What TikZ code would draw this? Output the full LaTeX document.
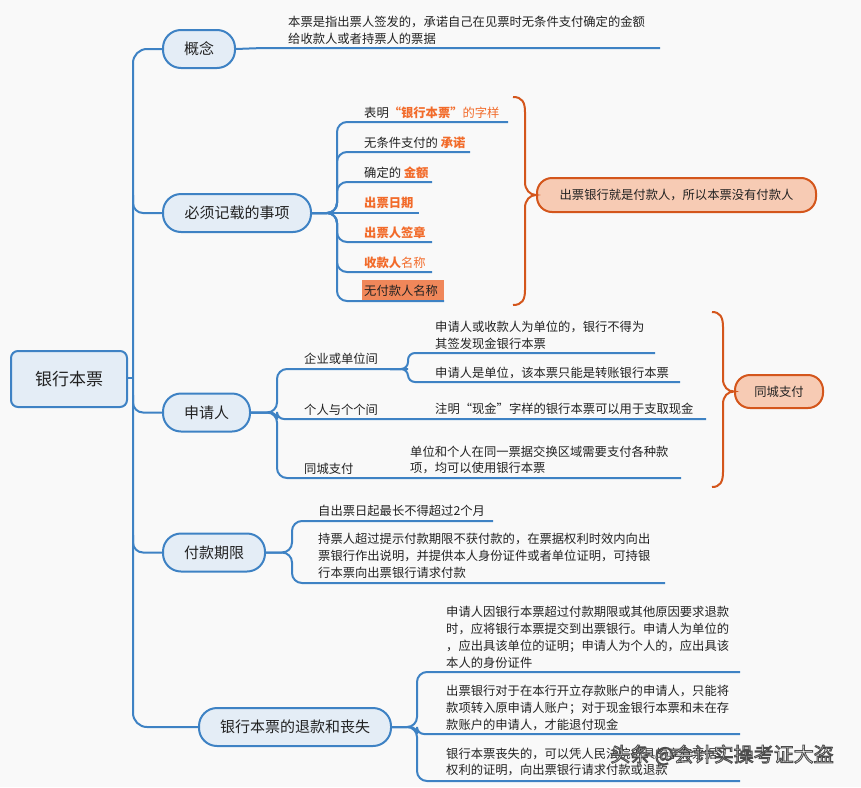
\documentclass[tikz,border=0pt]{standalone}
\usepackage{fontspec}
\setmainfont{Noto Sans CJK SC}
\definecolor{lnblue}{HTML}{3E82C4}
\definecolor{ndfill}{HTML}{E4EDF6}
\definecolor{txtc}{HTML}{222222}
\definecolor{orb}{HTML}{F26B2A}
\definecolor{orc}{HTML}{D4561C}
\definecolor{orfill}{HTML}{F7CBB4}
\definecolor{hl}{HTML}{F0875A}
\definecolor{bg}{HTML}{F9F9F9}
\newcommand{\wmoutline}[1]{\special{pdf:literal direct 0.3 0.3 0.3 RG 0.9 w 2 Tr}#1\special{pdf:literal direct 0 Tr}}
\begin{document}
\begin{tikzpicture}[x=1pt,y=-1pt,
  link/.style={draw=lnblue, line width=2pt, rounded corners=10pt},
  slink/.style={draw=lnblue, line width=2pt, rounded corners=7pt},
  topic/.style={draw=lnblue, fill=ndfill, line width=2pt, rounded corners=18pt, minimum height=38pt, inner sep=0pt, font=\fontsize{15}{18}\selectfont, text=txtc},
  mainnode/.style={draw=lnblue, fill=ndfill, line width=2pt, rounded corners=7pt, minimum width=116pt, minimum height=56pt, inner sep=0pt, font=\fontsize{17}{20}\selectfont, text=txtc},
  txt/.style={anchor=west, inner sep=0pt, font=\fontsize{12.3}{16.8}\selectfont, text=txtc, align=left},
  bracepath/.style={draw=orc, line width=2pt},
  sumbox/.style={draw=orc, fill=orfill, line width=2pt, rounded corners=15pt, inner sep=0pt, font=\fontsize{12.3}{16}\selectfont, text=txtc},
  wm/.style={inner sep=0pt, font=\fontsize{20}{22}\selectfont, text=white}
]
\useasboundingbox (0,0) rectangle (861,787);
\fill[bg] (0,0) rectangle (861,787);

% main and topic nodes
\node[mainnode] (root) at (69,379) {银行本票};
\node[topic, minimum width=72pt] (gn) at (199,49) {概念};
\node[topic, minimum width=148pt] (bx) at (237,213) {必须记载的事项};
\node[topic, minimum width=87pt] (sq) at (206.5,412.5) {申请人};
\node[topic, minimum width=102pt] (fk) at (214,552.5) {付款期限};
\node[topic, minimum width=192pt] (tk) at (295,727) {银行本票的退款和丧失};

% trunk
\draw[link, rounded corners=14pt] (gn.west) -- (133,49) -- (133,727) -- (tk.west);
\draw[link] (root.east |- 0,378) -- (133,378);
\draw[link] (133,195) -- (133,213) -- (bx.west);
\draw[link] (133,395) -- (133,412.5) -- (sq.west);
\draw[link] (133,535) -- (133,552.5) -- (fk.west);

% 概念
\node[txt] (gnt) at (288,30) {本票是指出票人签发的，承诺自己在见票时无条件支付确定的金额\\给收款人或者持票人的票据};
\draw[link] (gn.east) -- (262,48) -- (660,48);

% 必须记载的事项
\fill[hl] (362,280) rectangle (444,301);
\node[txt] (b1) at (364,113) {表明{\color{orb}\bfseries “银行本票”}{\color{orb}的字样}};
\node[txt] (b2) at (364,143) {无条件支付的 {\color{orb}\bfseries 承诺}};
\node[txt] (b3) at (364,173) {确定的 {\color{orb}\bfseries 金额}};
\node[txt] (b4) at (364,203) {{\color{orb}\bfseries 出票日期}};
\node[txt] (b5) at (364,233) {{\color{orb}\bfseries 出票人签章}};
\node[txt] (b6) at (364,263) {{\color{orb}\bfseries 收款人}{\color{orb}名称}};
\node[txt] (b7) at (364,291) {无付款人名称};
\draw[link] (bx.east) -- (337,213) -- (337,122) -- (508,122);
\draw[link] (bx.east) -- (337,213) -- (337,152) -- (470,152);
\draw[link] (bx.east) -- (337,213) -- (337,182) -- (432,182);
\draw[link] (bx.east) -- (419,213);
\draw[link] (bx.east) -- (337,213) -- (337,242) -- (432,242);
\draw[link] (bx.east) -- (337,213) -- (337,272) -- (432,272);
\draw[link] (bx.east) -- (337,213) -- (337,301) -- (444,301);

% brace 1 and summary
\node[sumbox, minimum width=279pt, minimum height=34pt] (s1) at (676.5,195) {出票银行就是付款人，所以本票没有付款人};
\draw[bracepath] (513,97) .. controls (522,97) and (525,102) .. (525,112) -- (525,182) .. controls (525,190) and (530,195) .. (s1.west) .. controls (530,195) and (525,200) .. (525,208) -- (525,290) .. controls (525,300) and (522,305) .. (513,305);

% 申请人
\node[txt] (q1) at (304,359) {企业或单位间};
\node[txt] (q2) at (304,410) {个人与个个间};
\node[txt] (q3) at (304,469) {同城支付};
\node[txt] (q11) at (435,335) {申请人或收款人为单位的，银行不得为\\其签发现金银行本票};
\node[txt] (q12) at (435,373) {申请人是单位，该本票只能是转账银行本票};
\node[txt] (q21) at (435,409) {注明“现金”字样的银行本票可以用于支取现金};
\node[txt] (q31) at (410,460) {单位和个人在同一票据交换区域需要支付各种款\\项，均可以使用银行本票};
\draw[link] (sq.east) -- (277,412.5) -- (277,369) -- (408,369);
\draw[slink] (sq.east) -- (277,412.5) -- (277,419) -- (706,419);
\draw[link] (sq.east) -- (277,412.5) -- (277,478) -- (681,478);
\draw[slink] (390,369) -- (408,369) -- (408,353) -- (655,353);
\draw[slink] (390,369) -- (408,369) -- (408,382) -- (680,382);

% brace 2 and summary
\node[sumbox, minimum width=88pt, minimum height=33pt] (s2) at (779,391.5) {同城支付};
\draw[bracepath] (712,312) .. controls (720,312) and (723,317) .. (723,327) -- (723,379) .. controls (723,387) and (728,391.5) .. (s2.west) .. controls (728,391.5) and (723,396) .. (723,404) -- (723,472) .. controls (723,482) and (720,487) .. (712,487);

% 付款期限
\node[txt] (f1) at (318,511) {自出票日起最长不得超过2个月};
\node[txt] (f2) at (318,556) {持票人超过提示付款期限不获付款的，在票据权利时效内向出\\票银行作出说明，并提供本人身份证件或者单位证明，可持银\\行本票向出票银行请求付款};
\draw[link] (fk.east) -- (292,552.5) -- (292,521) -- (493,521);
\draw[link] (fk.east) -- (292,552.5) -- (292,583) -- (665,583);

% 退款和丧失
\node[txt] (t1) at (446,637.5) {申请人因银行本票超过付款期限或其他原因要求退款\\时，应将银行本票提交到出票银行。申请人为单位的\\，应出具该单位的证明；申请人为个人的，应出具该\\本人的身份证件};
\node[txt] (t2) at (446,708) {出票银行对于在本行开立存款账户的申请人，只能将\\款项转入原申请人账户；对于现金银行本票和未在存\\款账户的申请人，才能退付现金};
\node[txt] (t3) at (446,762) {银行本票丧失的，可以凭人民法院出具的享有票据\\权利的证明，向出票银行请求付款或退款};
\draw[link] (tk.east) -- (417,727) -- (417,672) -- (740,672);
\draw[slink] (tk.east) -- (417,727) -- (417,734) -- (740,734);
\draw[link] (tk.east) -- (417,727) -- (417,781) -- (740,781);

% watermark
\node[wm] (wm) at (722,755) {\wmoutline{头条 @会计实操考证大盗}};
\end{tikzpicture}
\end{document}
